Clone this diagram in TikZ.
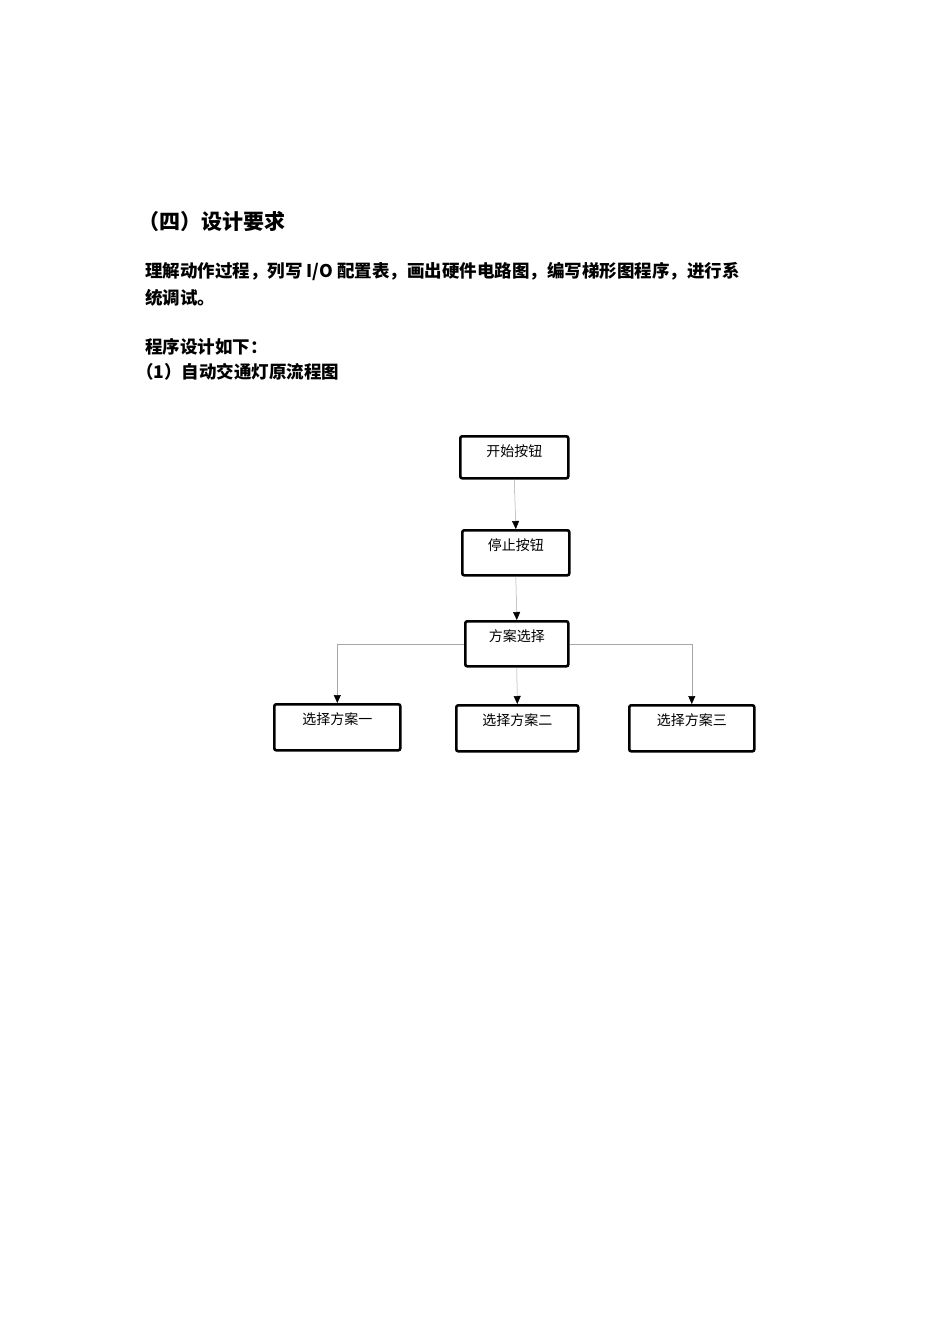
\documentclass[tikz,border=0pt]{standalone}
\usepackage{fontspec}
\newfontfamily\cjk{Noto Sans CJK SC}
\usetikzlibrary{arrows.meta,calc}
\begin{document}
\begin{tikzpicture}[x=1pt,y=-1pt,
  box/.style={draw,line width=2.6pt,rounded corners=2pt,anchor=north west,inner sep=0pt},
  lab/.style={anchor=north,inner sep=0pt,font=\cjk\fontsize{14}{16}\selectfont},
  txt/.style={anchor=west,inner sep=0pt,font=\cjk\bfseries\fontsize{17.5}{20}\selectfont},
  conn/.style={draw=gray!70,line width=0.5pt,-{Triangle[length=8pt,width=7pt,fill=black,color=black]}}]
\useasboundingbox (0,0) rectangle (950,1344);
\node[txt,font=\cjk\bfseries\fontsize{21}{24}\selectfont] (h) at (138,222) {（四）设计要求};
\node[txt] (l1) at (145,272) {理解动作过程，列写 I/O 配置表，画出硬件电路图，编写梯形图程序，进行系};
\node[txt] (l2) at (145,298) {统调试。};
\node[txt] (l3) at (145,347) {程序设计如下：};
\node[txt] (l4) at (136,372) {（1）自动交通灯原流程图};
\newcommand\bx[6]{\node[box,minimum width=#4-#2,minimum height=#5-#3] (#1) at (#2,#3) {};
  \node[lab] at ($(#1.north)+(0,9)$) {#6};}
\bx{a}{459}{435}{567}{477}{开始按钮}
\bx{b}{461}{529}{568}{574}{停止按钮}
\bx{c}{464}{620}{567}{665}{方案选择}
\bx{d}{273}{703}{399}{749}{选择方案一}
\bx{e}{455}{704}{577}{750}{选择方案二}
\bx{f}{628}{704}{753}{750}{选择方案三}
\draw[conn] (a.south) -- (b.north);
\draw[conn] (b.south) -- (c.north);
\draw[conn] (c.south) -- (e.north);
\draw[conn] (c.west) -| (d.north);
\draw[conn] (c.east) -| (f.north);
\end{tikzpicture}
\end{document}
